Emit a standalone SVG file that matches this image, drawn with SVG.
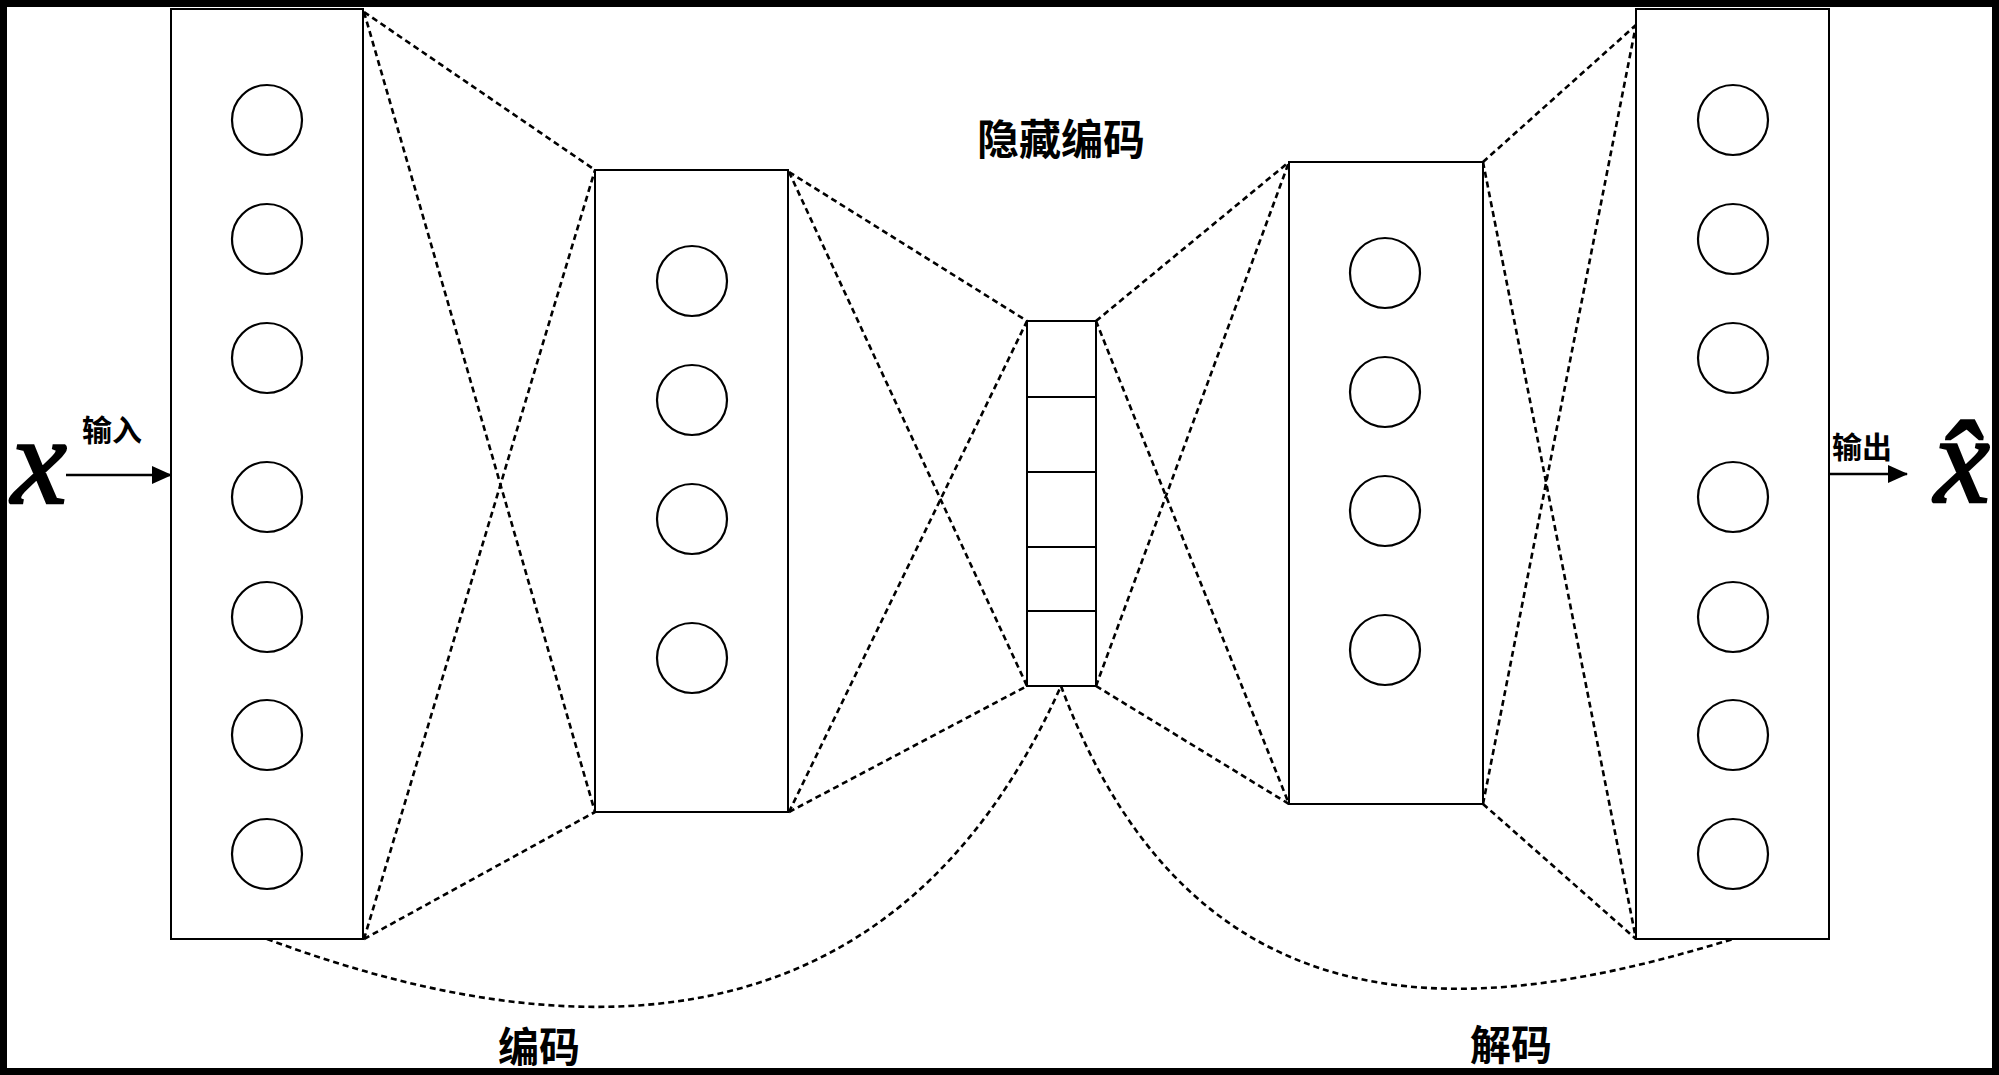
<svg xmlns="http://www.w3.org/2000/svg" width="1999" height="1075" viewBox="0 0 1999 1075">
<defs>
<style>
.box{fill:#fff;stroke:#000;stroke-width:2}
.neuron{fill:#fff;stroke:#000;stroke-width:2.2}
.dash{fill:none;stroke:#000;stroke-width:2.6;stroke-dasharray:6 4}
.arrow{fill:none;stroke:#000;stroke-width:2.5}
.cjk{font-family:"Noto Sans CJK SC","Noto Sans",sans-serif;fill:#000;text-anchor:middle}
.var{font-family:"Liberation Serif","Times New Roman",serif;font-style:italic;font-weight:normal;fill:#000;stroke:#000;stroke-width:2.5;text-anchor:middle}
</style>
<marker id="ah" markerWidth="20" markerHeight="18" refX="19" refY="9" orient="auto" markerUnits="userSpaceOnUse">
<path d="M0,0 L20,9 L0,18 Z" fill="#000"/>
</marker>
</defs>
<rect x="0" y="0" width="1999" height="1075" fill="#fff"/>

<g id="connectors">
<!-- input layer -> encoder hidden -->
<line class="dash" x1="364" y1="12" x2="595" y2="170"/>
<line class="dash" x1="364" y1="12" x2="595" y2="812"/>
<line class="dash" x1="364" y1="939" x2="595" y2="812"/>
<line class="dash" x1="364" y1="939" x2="595" y2="170"/>
<!-- encoder hidden -> code -->
<line class="dash" x1="789" y1="172" x2="1027" y2="321"/>
<line class="dash" x1="789" y1="172" x2="1027" y2="686"/>
<line class="dash" x1="789" y1="812" x2="1027" y2="686"/>
<line class="dash" x1="789" y1="812" x2="1027" y2="321"/>
<!-- code -> decoder hidden -->
<line class="dash" x1="1096" y1="321" x2="1289" y2="162"/>
<line class="dash" x1="1096" y1="321" x2="1289" y2="804"/>
<line class="dash" x1="1096" y1="686" x2="1289" y2="804"/>
<line class="dash" x1="1096" y1="686" x2="1289" y2="162"/>
<!-- decoder hidden -> output layer -->
<line class="dash" x1="1483" y1="162" x2="1636" y2="25"/>
<line class="dash" x1="1483" y1="162" x2="1636" y2="939"/>
<line class="dash" x1="1483" y1="804" x2="1636" y2="939"/>
<line class="dash" x1="1483" y1="804" x2="1636" y2="25"/>
<!-- arcs -->
<path class="dash" d="M267,939 C549,1044 889,1072 1061,686"/>
<path class="dash" d="M1061,686 C1200,1060 1500,1010 1733,939"/>
<!-- input / output arrows -->
<line class="arrow" x1="66" y1="475" x2="171" y2="475" marker-end="url(#ah)"/>
<line class="arrow" x1="1829" y1="474" x2="1907" y2="474" marker-end="url(#ah)"/>
</g>

<g id="input-layer">
<rect class="box" x="171" y="9" width="192" height="930"/>
<circle class="neuron" cx="267" cy="120" r="35"/>
<circle class="neuron" cx="267" cy="239" r="35"/>
<circle class="neuron" cx="267" cy="358" r="35"/>
<circle class="neuron" cx="267" cy="497" r="35"/>
<circle class="neuron" cx="267" cy="617" r="35"/>
<circle class="neuron" cx="267" cy="735" r="35"/>
<circle class="neuron" cx="267" cy="854" r="35"/>
</g>

<g id="encoder-hidden">
<rect class="box" x="595" y="170" width="193" height="642"/>
<circle class="neuron" cx="692" cy="281" r="35"/>
<circle class="neuron" cx="692" cy="400" r="35"/>
<circle class="neuron" cx="692" cy="519" r="35"/>
<circle class="neuron" cx="692" cy="658" r="35"/>
</g>

<g id="code">
<rect class="box" x="1027" y="321" width="69" height="365"/>
<line class="box" x1="1027" y1="397" x2="1096" y2="397"/>
<line class="box" x1="1027" y1="472" x2="1096" y2="472"/>
<line class="box" x1="1027" y1="547" x2="1096" y2="547"/>
<line class="box" x1="1027" y1="611" x2="1096" y2="611"/>
</g>

<g id="decoder-hidden">
<rect class="box" x="1289" y="162" width="194" height="642"/>
<circle class="neuron" cx="1385" cy="273" r="35"/>
<circle class="neuron" cx="1385" cy="392" r="35"/>
<circle class="neuron" cx="1385" cy="511" r="35"/>
<circle class="neuron" cx="1385" cy="650" r="35"/>
</g>

<g id="output-layer">
<rect class="box" x="1636" y="9" width="193" height="930"/>
<circle class="neuron" cx="1733" cy="120" r="35"/>
<circle class="neuron" cx="1733" cy="239" r="35"/>
<circle class="neuron" cx="1733" cy="358" r="35"/>
<circle class="neuron" cx="1733" cy="497" r="35"/>
<circle class="neuron" cx="1733" cy="617" r="35"/>
<circle class="neuron" cx="1733" cy="735" r="35"/>
<circle class="neuron" cx="1733" cy="854" r="35"/>
</g>

<g id="labels">
<text class="var" x="39" y="503" font-size="125">x</text>
<text class="cjk" x="112" y="441" font-size="30" font-weight="bold">输入</text>
<text class="cjk" x="1862" y="458" font-size="30" font-weight="bold">输出</text>
<text class="var" x="1962" y="502" font-size="125">x̂</text>
<text class="cjk" x="1061" y="155" font-size="42" font-weight="600">隐藏编码</text>
<text class="cjk" x="539" y="1062" font-size="41" font-weight="600">编码</text>
<text class="cjk" x="1511" y="1060" font-size="41" font-weight="600">解码</text>
</g>

<rect x="3.5" y="3.5" width="1992" height="1068" fill="none" stroke="#000" stroke-width="7"/>
</svg>
